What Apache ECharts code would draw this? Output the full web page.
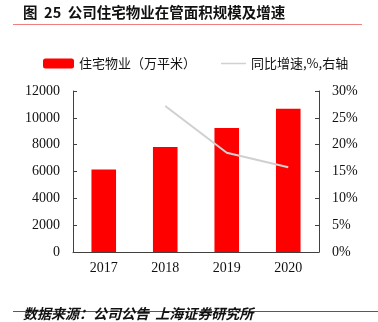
<!DOCTYPE html>
<html><head><meta charset="utf-8">
<script src="https://cdn.jsdelivr.net/npm/echarts@6/dist/echarts.min.js"></script>
<style>html,body{margin:0;padding:0;background:#fff}#c{width:378px;height:322px}</style>
</head><body><div id="c"></div>
<script>
const categories = ['2017','2018','2019','2020'];
const areaValues = [6150, 7820, 9250, 10680];
const growthValues = [null, 27.2, 18.5, 15.8];
const leftTicks = [0, 2000, 4000, 6000, 8000, 10000, 12000];
const rightTicks = ['0%','5%','10%','15%','20%','25%','30%'];
const seriesNames = ['住宅物业（万平米）', '同比增速,%,右轴'];

const serif = 'Liberation Serif, Times New Roman, serif';
const cjk = 'Noto Sans CJK SC';
const chart = echarts.init(document.getElementById('c'));
chart.setOption({
  animation: false,
  backgroundColor: '#fff',
  graphic: [
    {type:'text', left:23, top:5, style:{text:'图  25  公司住宅物业在管面积规模及增速', font:'bold 14.5px "Noto Sans CJK SC"', fill:'#111'}},
    {type:'line', shape:{x1:13,y1:24.5,x2:362,y2:24.5}, style:{stroke:'#f08080', lineWidth:1.2}},
    {type:'line', shape:{x1:13,y1:311.5,x2:378,y2:311.5}, style:{stroke:'#e02020', lineWidth:1}},
    {type:'text', left:23, top:307, style:{text:'数据来源：公司公告  上海证券研究所', font:'italic bold 14px "Noto Sans CJK SC"', fill:'#111'}}
  ],
  legend: [
    {data:[seriesNames[0]], left:38, top:52, itemWidth:31, itemHeight:10, itemGap:4,
     textStyle:{fontFamily:cjk, fontSize:13, color:'#111'}},
    {data:[{name:seriesNames[1], icon:'rect', itemStyle:{color:'#d0d0d0'}}], left:216, top:52, itemWidth:25, itemHeight:1.5,
     textStyle:{fontFamily:cjk, fontSize:13, color:'#111'}}
  ],
  grid: {left:73, right:59, top:91, bottom:70},
  xAxis: {
    type:'category', data:categories,
    axisLine:{lineStyle:{color:'#404040', width:1}},
    axisTick:{show:false},
    axisLabel:{fontFamily:serif, fontSize:14, color:'#111', margin:9}
  },
  yAxis: [
    {type:'value', min:0, max:12000, interval:2000,
     axisLine:{show:true, lineStyle:{color:'#404040'}},
     axisTick:{show:true, inside:true, length:4, lineStyle:{color:'#404040'}},
     splitLine:{show:false},
     axisLabel:{fontFamily:serif, fontSize:14, color:'#111', margin:13,
       formatter:v => String(leftTicks[Math.round(v/2000)])}},
    {type:'value', min:0, max:30, interval:5, position:'right',
     axisLine:{show:true, lineStyle:{color:'#404040'}},
     axisTick:{show:true, inside:true, length:4, lineStyle:{color:'#404040'}},
     splitLine:{show:false},
     axisLabel:{fontFamily:serif, fontSize:14, color:'#111', margin:13, align:'left',
       formatter:v => rightTicks[Math.round(v/5)]}}
  ],
  series: [
    {name:seriesNames[0], type:'bar', data:areaValues, barWidth:'40%',
     itemStyle:{color:'#ff0000'}},
    {name:seriesNames[1], type:'line', yAxisIndex:1, data:growthValues,
     symbol:'none', lineStyle:{color:'#d0d0d0', width:2}, itemStyle:{color:'#d0d0d0'}}
  ]
});
</script></body></html>
